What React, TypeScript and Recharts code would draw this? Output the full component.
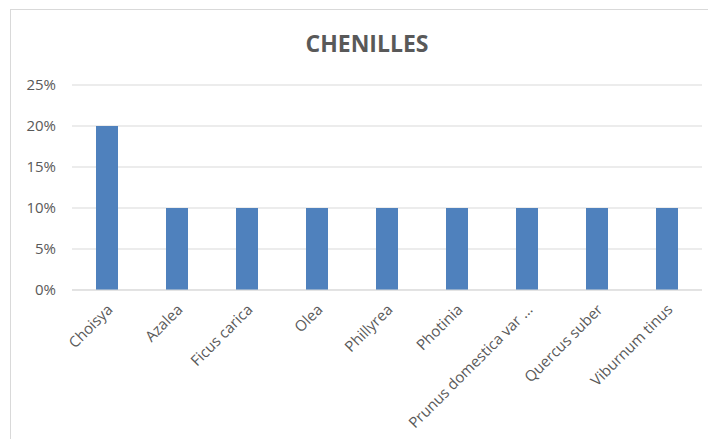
import React from 'react';
import { BarChart, Bar, XAxis, YAxis, CartesianGrid } from 'recharts';

const plants = [
  'Choisya',
  'Azalea',
  'Ficus carica',
  'Olea',
  'Phillyrea',
  'Photinia',
  'Prunus domestica var ...',
  'Quercus suber',
  'Viburnum tinus',
];
const shares = [0.2, 0.1, 0.1, 0.1, 0.1, 0.1, 0.1, 0.1, 0.1];
const yTicks = [0, 0.05, 0.1, 0.15, 0.2, 0.25];

const data = plants.map((name, i) => ({ name, value: shares[i] }));

const FONT = '"Open Sans", "Liberation Sans", sans-serif';
const GREY = '#595959';

const AngledTick = (props: any) => {
  const { x, y, payload } = props;
  return (
    <g transform={`translate(${x - 1},${y + 5})`}>
      <text
        transform="rotate(-45)"
        textAnchor="end"
        dy="0.71em"
        fill={GREY}
        fontSize={15}
        fontFamily={FONT}
      >
        {payload.value}
      </text>
    </g>
  );
};

const App: React.FC = () => {
  return (
    <div
      style={{
        position: 'absolute',
        left: 10,
        top: 9,
        width: 720,
        height: 460,
        border: '1px solid #d9d9d9',
        background: '#fff',
      }}
    >
      <div
        style={{
          position: 'absolute',
          top: 17,
          left: 0,
          width: 712,
          textAlign: 'center',
          fontFamily: FONT,
          fontWeight: 700,
          fontSize: 23,
          color: GREY,
        }}
      >
        CHENILLES
      </div>
      <BarChart
        width={720}
        height={440}
        data={data}
        margin={{ top: 75, right: 29, bottom: 40, left: 0 }}
        barSize={22}
      >
        <CartesianGrid vertical={false} stroke="#d9d9d9" />
        <XAxis
          dataKey="name"
          interval={0}
          height={120}
          tick={<AngledTick />}
          tickLine={false}
          axisLine={{ stroke: '#d9d9d9' }}
        />
        <YAxis
          width={61}
          domain={[0, 0.25]}
          ticks={yTicks}
          tickFormatter={(v: number) => `${Math.round(v * 100)}%`}
          axisLine={false}
          tickLine={false}
          tickSize={0}
          tickMargin={16}
          tick={{ fill: GREY, fontSize: 15, fontFamily: FONT }}
        />
        <Bar dataKey="value" fill="#4f81bd" isAnimationActive={false} />
      </BarChart>
    </div>
  );
};

export default App;
